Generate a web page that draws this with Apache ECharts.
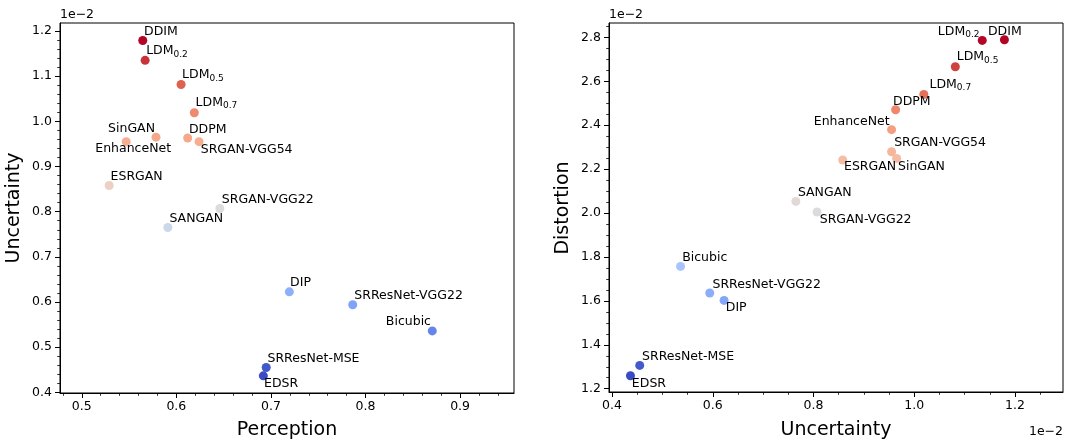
<!DOCTYPE html>
<html><head><meta charset="utf-8">
<script src="https://cdn.jsdelivr.net/npm/echarts@6/dist/echarts.min.js"></script>
<style>html,body{margin:0;padding:0;background:#fff}#c{width:1065px;height:440px}</style>
</head><body><div id="c"></div>
<script>
// ---- data ----
const methods = ['DDIM','LDM_0.2','LDM_0.5','LDM_0.7','SinGAN','EnhanceNet','DDPM','SRGAN-VGG54','ESRGAN','SRGAN-VGG22','SANGAN','DIP','SRResNet-VGG22','Bicubic','SRResNet-MSE','EDSR'];
const perception  = [0.5645,0.567,0.605,0.619,0.5785,0.547,0.612,0.624,0.529,0.646,0.591,0.7195,0.7865,0.8706,0.695,0.692];
const uncertainty = [1.179,1.135,1.0815,1.019,0.965,0.955,0.963,0.955,0.858,0.807,0.765,0.6225,0.594,0.536,0.455,0.4366];
const distortion  = [2.7895,2.7864,2.6666,2.5404,2.2489,2.3797,2.4707,2.2794,2.2416,2.0048,2.053,1.602,1.636,1.757,1.306,1.259];
const leftXTicks  = [0.5,0.6,0.7,0.8,0.9];
const leftYTicks  = [0.4,0.5,0.6,0.7,0.8,0.9,1.0,1.1,1.2];
const rightXTicks = [0.4,0.6,0.8,1.0,1.2];
const rightYTicks = [1.2,1.4,1.6,1.8,2.0,2.2,2.4,2.6,2.8];

// ---- style ----
const coolwarm = ['#3b4cc0','#5977e3','#7b9ff9','#9ebeff','#c0d4f5','#dddcdc','#f2cbb7','#f7ac8e','#ee8468','#d65244','#b40426'];
const FONT = 'DejaVu Sans';
const SYM = 9;
// label offsets: [dx, dy of text baseline, align]
const leftLabelStyle = [[1.3,-4,'left'],[1,-5.3,'left'],[1,-5.3,'left'],[1.3,-5.7,'left'],[-1,-3.7,'right'],[7,11.4,'center'],[1.3,-4.4,'left'],[1.7,12,'left'],[1.4,-4.3,'left'],[2,-4.3,'left'],[1.6,-4,'left'],[0.7,-4.7,'left'],[1.6,-4.3,'left'],[-1.3,-4.6,'right'],[1.3,-4.4,'left'],[0.7,12,'left']];
const rightLabelStyle = [[0.4,-4,'center'],[-2.7,-4.7,'right'],[1.4,-5.3,'left'],[5.6,-5.4,'left'],[1.4,13,'left'],[-2,-4,'right'],[-2.6,-4,'left'],[2.6,-4.3,'left'],[1.3,11.4,'left'],[2.7,12,'left'],[2,-4.4,'left'],[1.7,12,'left'],[2.7,-4,'left'],[1.6,-4.4,'left'],[2.3,-4,'left'],[1.4,12.3,'left']];

function minorTicks(a, b, step) {
  const out = [];
  const n = Math.round((b - a) / step);
  for (let i = 0; i <= n; i++) out.push(Math.round((a + i * step) * 1000) / 1000);
  return out;
}
function fmtName(n) {
  const i = n.indexOf('_');
  if (i < 0) return '{n|' + n + '}';
  return '{n|' + n.slice(0, i) + '}{s|' + n.slice(i + 1) + '}';
}
const rich = {
  n: {fontSize: 12.5, lineHeight: 16, color: '#000', opacity: 1, fontFamily: FONT},
  s: {fontSize: 9, lineHeight: 9.5, verticalAlign: 'bottom', color: '#000', opacity: 1, fontFamily: FONT}
};
function buildData(xs, ys, styles) {
  return methods.map((m, i) => {
    const st = styles[i];
    return {
      name: m,
      value: [xs[i], ys[i]],
      label: {position: [SYM / 2 + st[0], SYM / 2 + st[1] - 12.4], align: st[2], verticalAlign: 'top'}
    };
  });
}
function mainAxis(grid, min, max, ticks, isY) {
  return {
    type: 'value', gridIndex: grid, min: min, max: max, position: isY ? 'left' : 'bottom',
    axisLine: {show: true, onZero: false, lineStyle: {color: '#000', width: 1}},
    axisTick: {show: true, customValues: ticks, length: 5, lineStyle: {color: '#000', width: 1}},
    axisLabel: {show: true, customValues: ticks, margin: isY ? 8 : 7, color: '#000', fontSize: 12.5, fontFamily: FONT,
      formatter: v => v.toFixed(1)},
    splitLine: {show: false}
  };
}
function minorAxis(grid, min, max, ticks, isY) {
  return {
    type: 'value', gridIndex: grid, min: min, max: max, position: isY ? 'left' : 'bottom',
    axisLine: {show: false, onZero: false},
    axisTick: {show: true, customValues: ticks, length: 2.8, lineStyle: {color: '#000', width: 0.8}},
    axisLabel: {show: false},
    splitLine: {show: false}
  };
}

const L = {xmin: 0.477, xmax: 0.957, ymin: 0.3986, ymax: 1.2177};
const R = {xmin: 0.394, xmax: 1.2953, ymin: 1.185, ymax: 2.8656};

const chart = echarts.init(document.getElementById('c'), null, {renderer: 'canvas'});
const seriesCommon = {
  type: 'scatter', symbolSize: SYM,
  itemStyle: {opacity: 1},
  label: {show: true, color: '#000', opacity: 1, formatter: p => fmtName(p.name), rich: rich},
  emphasis: {disabled: true}
};
chart.setOption({
  animation: false,
  backgroundColor: '#fff',
  grid: [
    {left: 60, top: 23, width: 454, height: 370, show: true, borderColor: '#000', borderWidth: 1, backgroundColor: 'transparent'},
    {left: 609, top: 23, width: 454, height: 369, show: true, borderColor: '#000', borderWidth: 1, backgroundColor: 'transparent'}
  ],
  xAxis: [
    mainAxis(0, L.xmin, L.xmax, leftXTicks, false),
    minorAxis(0, L.xmin, L.xmax, minorTicks(0.48, 0.94, 0.02), false),
    mainAxis(1, R.xmin, R.xmax, rightXTicks, false),
    minorAxis(1, R.xmin, R.xmax, minorTicks(0.4, 1.25, 0.05), false)
  ],
  yAxis: [
    mainAxis(0, L.ymin, L.ymax, leftYTicks, true),
    minorAxis(0, L.ymin, L.ymax, minorTicks(0.4, 1.2, 0.02), true),
    mainAxis(1, R.ymin, R.ymax, rightYTicks, true),
    minorAxis(1, R.ymin, R.ymax, minorTicks(1.2, 2.85, 0.05), true)
  ],
  visualMap: [
    {show: false, type: 'continuous', seriesIndex: 0, dimension: 1, min: Math.min(...uncertainty), max: Math.max(...uncertainty), inRange: {color: coolwarm, opacity: 1}},
    {show: false, type: 'continuous', seriesIndex: 1, dimension: 1, min: Math.min(...distortion), max: Math.max(...distortion), inRange: {color: coolwarm, opacity: 1}}
  ],
  series: [
    Object.assign({}, seriesCommon, {xAxisIndex: 0, yAxisIndex: 0, data: buildData(perception, uncertainty, leftLabelStyle)}),
    Object.assign({}, seriesCommon, {xAxisIndex: 2, yAxisIndex: 2, data: buildData(uncertainty, distortion, rightLabelStyle)})
  ],
  graphic: [
    {type: 'text', left: 60, top: 8, style: {text: '1e\u22122', font: '12.5px "DejaVu Sans"', fill: '#000'}},
    {type: 'text', left: 609, top: 8, style: {text: '1e\u22122', font: '12.5px "DejaVu Sans"', fill: '#000'}},
    {type: 'text', right: 2, top: 425, style: {text: '1e\u22122', font: '12.5px "DejaVu Sans"', fill: '#000'}},
    {type: 'text', x: 287, y: 430, style: {text: 'Perception', font: '19px "DejaVu Sans"', fill: '#000', align: 'center', verticalAlign: 'middle'}},
    {type: 'text', x: 836, y: 430, style: {text: 'Uncertainty', font: '19px "DejaVu Sans"', fill: '#000', align: 'center', verticalAlign: 'middle'}},
    {type: 'text', x: 14.5, y: 208, rotation: Math.PI / 2, style: {text: 'Uncertainty', font: '19px "DejaVu Sans"', fill: '#000', align: 'center', verticalAlign: 'middle'}},
    {type: 'text', x: 563.5, y: 208, rotation: Math.PI / 2, style: {text: 'Distortion', font: '19px "DejaVu Sans"', fill: '#000', align: 'center', verticalAlign: 'middle'}}
  ]
});
</script>
</body></html>
